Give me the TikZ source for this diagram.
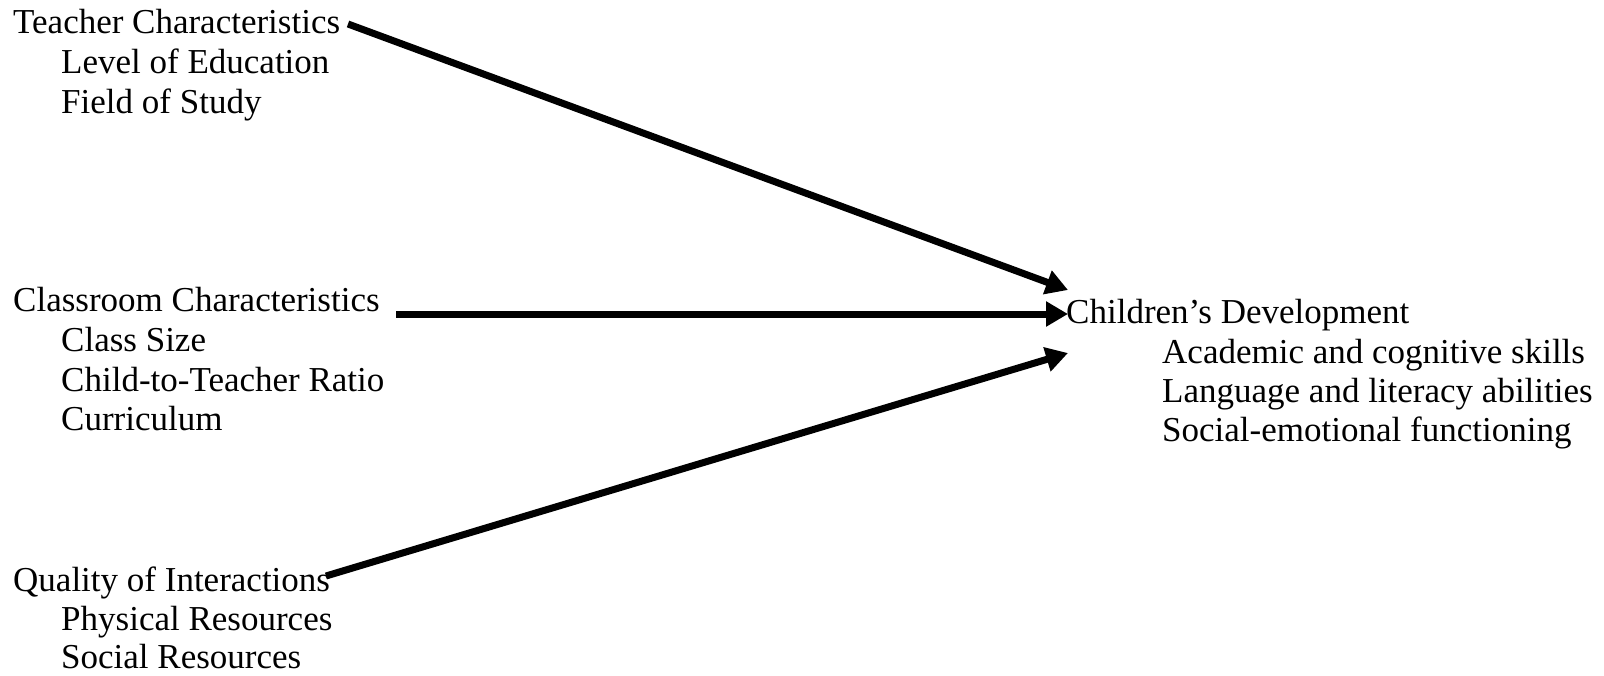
\documentclass[tikz,border=0pt]{standalone}
\usepackage{fontspec}
\setmainfont{Liberation Serif}
\usetikzlibrary{arrows.meta}
\tikzset{
  label text/.style={anchor=base west, inner sep=0pt, font=\fontsize{35}{40}\selectfont},
  link/.style={line width=7pt, -{Triangle[length=22pt, width=24pt]}}
}
\begin{document}
\begin{tikzpicture}[x=1pt, y=-1pt]
  \useasboundingbox (0,0) rectangle (1604,675);

  % factor groups on the left
  \node[label text] (teacher) at (13,33) {Teacher Characteristics};
  \node[label text] (edu)     at (61,73) {Level of Education};
  \node[label text] (field)   at (61,113) {Field of Study};

  \node[label text] (classroom) at (13,311.5) {Classroom Characteristics};
  \node[label text] (size)      at (61,351) {Class Size};
  \node[label text] (ratio)     at (61,391) {Child-to-Teacher Ratio};
  \node[label text] (curr)      at (61,430.5) {Curriculum};

  \node[label text] (quality)  at (13,591) {Quality of Interactions};
  \node[label text] (physical) at (61,630) {Physical Resources};
  \node[label text] (social)   at (61,668) {Social Resources};

  % outcome on the right
  \node[label text] (children) at (1066,323) {Children’s Development};
  \node[label text] (academic) at (1162,363) {Academic and cognitive skills};
  \node[label text] (language) at (1162,402.5) {Language and literacy abilities};
  \node[label text] (socemo)   at (1162,441.5) {Social-emotional functioning};

  % connector end points
  \coordinate (s1) at (348,24);
  \coordinate (s2) at (396,314);
  \coordinate (s3) at (326,576);
  \coordinate (e1) at (1068,290);
  \coordinate (e2) at (1068,314);
  \coordinate (e3) at (1068,353);

  \draw[link] (s1) -- (e1);
  \draw[link] (s2) -- (e2);
  \draw[link] (s3) -- (e3);
\end{tikzpicture}
\end{document}
